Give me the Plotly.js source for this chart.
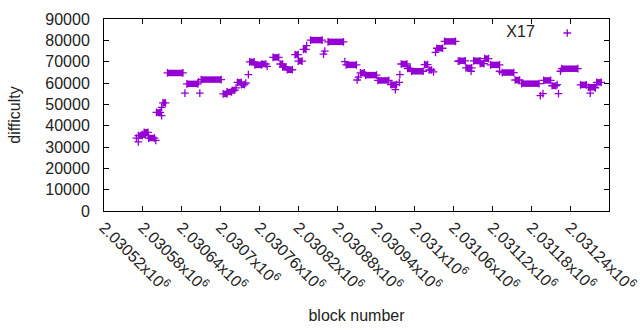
<!DOCTYPE html>
<html>
<head>
<meta charset="utf-8">
<script src="https://cdn.plot.ly/plotly-3.0.1.min.js"></script>
<style>html,body{margin:0;padding:0;background:#fff;}#chart{width:640px;height:330px;}</style>
</head>
<body>
<div id="chart"></div>
<script>
// Runs of consecutive blocks that share one difficulty value (start block, end block, value)
const runStart = [2030570,2030573,2030573,2030579,2030582,2030588,2030589,2030600,
  2030601,2030609,2030609,2030611,2030618,2030645,2030648,2030666,2030668,2030670,
  2030704,2030710,2030718,2030724,2030726,2030732,2030739,2030743,2030745,2030753,
  2030764,2030772,2030781,2030792,2030796,2030803,2030815,2030820,2030828,2030833,
  2030839,2030859,2030861,2030866,2030892,2030894,2030911,2030913,2030916,2030924,
  2030943,2030963,2030970,2030976,2030977,2030979,2030989,2030995,2031015,2031022,
  2031029,2031032,2031034,2031046,2031067,2031069,2031079,2031087,2031091,2031101,
  2031108,2031117,2031131,2031135,2031155,2031165,2031194,2031198,2031199,2031212,
  2031220,2031222,2031225,2031227,2031256,2031268,2031271,2031279,2031281];
const runEnd = [2030570,2030573,2030579,2030584,2030588,2030588,2030598,2030600,
  2030607,2030609,2030609,2030615,2030642,2030645,2030665,2030666,2030668,2030701,
  2030710,2030717,2030722,2030724,2030732,2030737,2030739,2030743,2030752,2030763,
  2030770,2030772,2030790,2030796,2030801,2030811,2030820,2030826,2030832,2030833,
  2030857,2030859,2030861,2030890,2030892,2030910,2030911,2030913,2030922,2030941,
  2030960,2030972,2030970,2030976,2030977,2030988,2030993,2031013,2031020,2031026,
  2031029,2031032,2031043,2031063,2031067,2031078,2031088,2031087,2031101,2031107,
  2031114,2031131,2031131,2031153,2031162,2031192,2031194,2031198,2031210,2031218,
  2031220,2031222,2031225,2031252,2031265,2031278,2031271,2031279,2031288];
const runValue = [34200,32400,35300,35800,36900,35300,34200,33100,
  46200,44700,48600,50700,64700,55300,59600,60500,55300,61600,
  54900,55800,56600,57700,60300,59200,60000,63900,69900,68500,
  68900,67800,72000,68900,67500,66200,73300,70300,75800,77500,
  80100,73500,74900,79300,70000,68500,61400,62800,64700,63700,
  61200,59200,56900,60300,63900,68900,66800,65500,68600,66100,
  65200,74400,76300,79500,70200,70400,67100,65500,70400,69100,
  71400,68500,65500,64900,61400,59700,54100,55000,61200,58700,
  59200,55000,65500,66700,59100,58000,55300,57700,60300];

const xTickVals = [2030520,2030580,2030640,2030700,2030760,2030820,2030880,
  2030940,2031000,2031060,2031120,2031180,2031240,2031300];
const xTickText = ['2.03052x10<sup>6</sup>','2.03058x10<sup>6</sup>','2.03064x10<sup>6</sup>',
  '2.0307x10<sup>6</sup>','2.03076x10<sup>6</sup>','2.03082x10<sup>6</sup>','2.03088x10<sup>6</sup>',
  '2.03094x10<sup>6</sup>','2.031x10<sup>6</sup>','2.03106x10<sup>6</sup>','2.03112x10<sup>6</sup>',
  '2.03118x10<sup>6</sup>','2.03124x10<sup>6</sup>','2.0313x10<sup>6</sup>'];
const seriesName = 'X17';

const COLOR = '#9400d3';

const barX = [], barY = [], ptX = [], ptY = [];
for (let i = 0; i < runStart.length; i++) {
  if (runEnd[i] > runStart[i]) {
    barX.push(runStart[i], runEnd[i], null);
    barY.push(runValue[i], runValue[i], null);
    ptX.push(runStart[i], runEnd[i]);
    ptY.push(runValue[i], runValue[i]);
  } else {
    ptX.push(runStart[i]);
    ptY.push(runValue[i]);
  }
}

const traces = [
  {x: barX, y: barY, type: 'scatter', mode: 'lines', connectgaps: false,
   line: {color: COLOR, width: 6.5}, showlegend: false, hoverinfo: 'skip'},
  {x: ptX, y: ptY, type: 'scatter', mode: 'markers', name: '',
   marker: {symbol: 'cross-thin-open', size: 5.5, color: COLOR, line: {color: COLOR, width: 1.3}},
   showlegend: true}
];

const FONT = 'Liberation Sans, Arial, sans-serif';
const layout = {
  width: 640, height: 330,
  margin: {l: 104, r: 31, t: 19, b: 119, pad: 0},
  paper_bgcolor: '#fff', plot_bgcolor: '#fff',
  font: {family: FONT, size: 16, color: '#000'},
  showlegend: true,
  legend: {x: 0.967, y: 1.015, xanchor: 'right', yanchor: 'top', bgcolor: 'rgba(0,0,0,0)',
    title: {text: seriesName + '&nbsp;', side: 'left', font: {family: FONT, size: 16, color: '#222'}},
    font: {family: FONT, size: 16}},
  xaxis: {range: [2030520, 2031300], tickmode: 'array', tickvals: xTickVals, ticktext: xTickText,
    tickangle: 45, ticks: 'inside', ticklen: 5, tickcolor: '#000', mirror: 'ticks',
    showline: true, linecolor: '#000', linewidth: 1, showgrid: false, zeroline: false,
    tickfont: {family: FONT, size: 16, color: '#222'},
    title: {text: 'block number', font: {family: FONT, size: 16, color: '#222'}, standoff: 16}},
  yaxis: {range: [0, 90000], tickmode: 'linear', tick0: 0, dtick: 10000, tickformat: 'd',
    ticks: 'inside', ticklen: 5, tickcolor: '#000', mirror: 'ticks',
    showline: true, linecolor: '#000', linewidth: 1, showgrid: false, zeroline: false,
    ticklabelstandoff: 10,
    tickfont: {family: FONT, size: 16, color: '#222'},
    title: {text: 'difficulty', font: {family: FONT, size: 16, color: '#222'}, standoff: 20}}
};

Plotly.newPlot('chart', traces, layout, {staticPlot: true, displayModeBar: false});
</script>
</body>
</html>
